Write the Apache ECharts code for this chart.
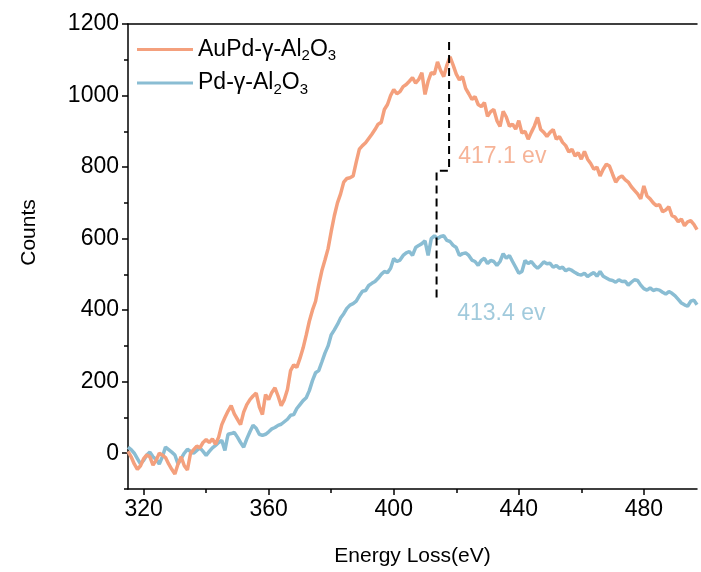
<!DOCTYPE html>
<html>
<head>
<meta charset="utf-8">
<script src="https://cdn.jsdelivr.net/npm/echarts@6/dist/echarts.min.js"></script>
<style>
  html, body { margin: 0; padding: 0; background: #fff; }
  #main { width: 701px; height: 572px; }
</style>
</head>
<body>
<div id="main"></div>
<script>
// energy loss, 1 eV steps from 315 to 497
var energy = [];
for (var e = 315; e <= 497; e++) energy.push(e);

var auPdCounts = [
  5, -10, -30, -45, -35, -15, -5, -10, -33, -20,
  0, -5, -12, -30, -45, -58, -30, -10, -35, -47,
  0, 10, 20, 15, 30, 38, 30, 40, 25, 45,
  80, 100, 118, 133, 110, 95, 80, 115, 136, 150,
  160, 168, 130, 108, 164, 150, 170, 183, 160, 133,
  150, 178, 231, 247, 240, 265, 294, 330, 369, 400,
  425, 470, 510, 540, 572, 620, 664, 700, 725, 758,
  768, 770, 775, 814, 850, 860, 868, 880, 892, 905,
  920, 925, 961, 975, 1000, 1017, 1005, 1011, 1025, 1031,
  1040, 1050, 1035, 1045, 1064, 1003, 1040, 1064, 1060, 1094,
  1070, 1053, 1085, 1108, 1085, 1060, 1044, 1053, 1020, 1005,
  989, 997, 975, 969, 980, 942, 955, 961, 930, 914,
  956, 940, 914, 920, 906, 930, 895, 900, 878, 897,
  915, 939, 905, 897, 886, 897, 905, 878, 885, 869,
  860, 842, 850, 831, 840, 822, 844, 822, 810, 794,
  800, 775, 794, 808, 803, 780, 758, 770, 775, 765,
  758, 745, 735, 725, 711, 747, 719, 711, 700, 692,
  695, 675, 680, 689, 664, 660, 647, 655, 636, 647,
  650, 640, 625
];

var pdCounts = [
  17, 10, 0, -15, -30, -20, -5, 3, -10, -17,
  -30, -10, 17, 10, 3, -5, -30, -15, 0, 11,
  5, 0, 8, 15, 5, -6, 5, 15, 22, 30,
  36, 8, 53, 55, 58, 45, 30, 17, 40, 60,
  78, 70, 53, 50, 53, 60, 68, 72, 78, 81,
  88, 95, 106, 108, 125, 136, 147, 155, 175, 203,
  225, 231, 255, 280, 300, 331, 345, 360, 378, 390,
  405, 414, 418, 425, 440, 453, 455, 469, 475, 480,
  489, 500, 508, 505, 517, 544, 536, 540, 553, 560,
  564, 553, 575, 581, 586, 594, 553, 600, 608, 600,
  606, 608, 595, 592, 581, 575, 553, 558, 560, 553,
  540, 536, 525, 539, 545, 530, 539, 536, 525, 536,
  558, 545, 553, 536, 520, 503, 508, 539, 530, 536,
  525, 517, 525, 535, 530, 531, 520, 525, 517, 520,
  510, 515, 511, 505, 500, 498, 503, 494, 500, 505,
  495, 508, 495, 490, 485, 483, 478, 485, 480, 481,
  470, 478, 485, 483, 470, 460, 456, 462, 455, 458,
  456, 450, 445, 452, 447, 440, 430, 420, 415, 411,
  425, 428, 415
];

var seriesNames = ['AuPd-γ-Al2O3', 'Pd-γ-Al2O3'];
var xTicks = [320, 360, 400, 440, 480];
var xMinorTicks = [340, 380, 420, 460];
var yTicks = [0, 200, 400, 600, 800, 1000, 1200];
var yMinorTicks = [-100, 100, 300, 500, 700, 900, 1100];

// dashed peak marker (step) and the two peak labels
var peakMarker = [[417.7, 1150], [417.7, 790], [413.7, 790], [413.7, 425]];
var peakLabels = [
  { text: '417.1 ev', at: [420.6, 830] },
  { text: '413.4 ev', at: [420.3, 390] }
];

var orange = '#F4A07D';
var blue = '#8ABDD3';

function pairs(xs, ys) {
  return xs.map(function (x, i) { return [x, ys[i]]; });
}

var chart = echarts.init(document.getElementById('main'));

var tickFont = { fontFamily: 'Liberation Sans', fontSize: 23, color: '#000' };
var nameFont = { fontFamily: 'Liberation Sans', fontSize: 21, color: '#000' };
var plain = function (v) { return String(v); };

var option = {
  backgroundColor: '#fff',
  animation: false,
  grid: { left: 128, right: 4, top: 24, bottom: 81 },
  legend: {
    data: seriesNames,
    orient: 'vertical',
    left: 137,
    top: 38,
    padding: 0,
    itemGap: 8,
    itemWidth: 56,
    itemHeight: 3,
    icon: 'rect',
    formatter: function (name) {
      var head = name.replace('Al2O3', '');
      return '{a|' + head + 'Al}{s|2}{a|O}{s|3}';
    },
    textStyle: {
      fontFamily: 'Liberation Sans',
      color: '#000',
      rich: {
        a: { fontFamily: 'Liberation Sans', fontSize: 23, color: '#000' },
        s: { fontFamily: 'Liberation Sans', fontSize: 15, color: '#000', padding: [13, 0, 0, 0] }
      }
    }
  },
  xAxis: [
    {
      type: 'value', min: 315, max: 497, position: 'bottom',
      name: 'Energy Loss(eV)', nameLocation: 'middle', nameGap: 57,
      nameTextStyle: nameFont,
      axisLine: { show: true, onZero: false, lineStyle: { color: '#000', width: 1.5 } },
      axisTick: { show: true, customValues: xTicks, length: 6, lineStyle: { color: '#000', width: 1.5 } },
      axisLabel: Object.assign({ customValues: xTicks, margin: 9, formatter: plain }, tickFont),
      splitLine: { show: false }
    },
    {
      type: 'value', min: 315, max: 497, position: 'bottom',
      axisLine: { show: false, onZero: false },
      axisTick: { show: true, customValues: xMinorTicks, length: 4, lineStyle: { color: '#000', width: 1.5 } },
      axisLabel: { show: false },
      splitLine: { show: false }
    },
    {
      type: 'value', min: 315, max: 497, position: 'top',
      axisLine: { show: true, onZero: false, lineStyle: { color: '#000', width: 1.5 } },
      axisTick: { show: false },
      axisLabel: { show: false },
      splitLine: { show: false }
    }
  ],
  yAxis: [
    {
      type: 'value', min: -100, max: 1200, position: 'left',
      name: 'Counts', nameLocation: 'middle', nameGap: 88,
      nameTextStyle: Object.assign({ padding: [0, 0, 0, 48] }, nameFont),
      axisLine: { show: true, onZero: false, lineStyle: { color: '#000', width: 1.5 } },
      axisTick: { show: true, customValues: yTicks, length: 6, lineStyle: { color: '#000', width: 1.5 } },
      axisLabel: Object.assign({ customValues: yTicks, margin: 9, formatter: plain }, tickFont),
      splitLine: { show: false }
    },
    {
      type: 'value', min: -100, max: 1200, position: 'left',
      axisLine: { show: false, onZero: false },
      axisTick: { show: true, customValues: yMinorTicks, length: 4, lineStyle: { color: '#000', width: 1.5 } },
      axisLabel: { show: false },
      splitLine: { show: false }
    }
  ],
  series: [
    {
      name: seriesNames[0], type: 'line', xAxisIndex: 0, yAxisIndex: 0,
      data: pairs(energy, auPdCounts), showSymbol: false, symbol: 'none',
      color: orange, lineStyle: { color: orange, width: 3.5 }, z: 3
    },
    {
      name: seriesNames[1], type: 'line', xAxisIndex: 0, yAxisIndex: 0,
      data: pairs(energy, pdCounts), showSymbol: false, symbol: 'none',
      color: blue, lineStyle: { color: blue, width: 3.5 }, z: 2
    },
    {
      name: 'peak', type: 'line', xAxisIndex: 0, yAxisIndex: 0,
      data: peakMarker, showSymbol: false, symbol: 'none',
      lineStyle: { color: '#000', width: 2, type: [8, 5] }, z: 4
    },
    {
      name: 'peakText', type: 'scatter', xAxisIndex: 0, yAxisIndex: 0,
      symbolSize: 0,
      data: peakLabels.map(function (p, i) {
        return {
          value: p.at,
          label: {
            show: true, formatter: p.text, position: 'right', distance: 0,
            fontFamily: 'Liberation Sans', fontSize: 23,
            color: i === 0 ? orange : blue
          }
        };
      })
    }
  ]
};

chart.setOption(option);
</script>
</body>
</html>
